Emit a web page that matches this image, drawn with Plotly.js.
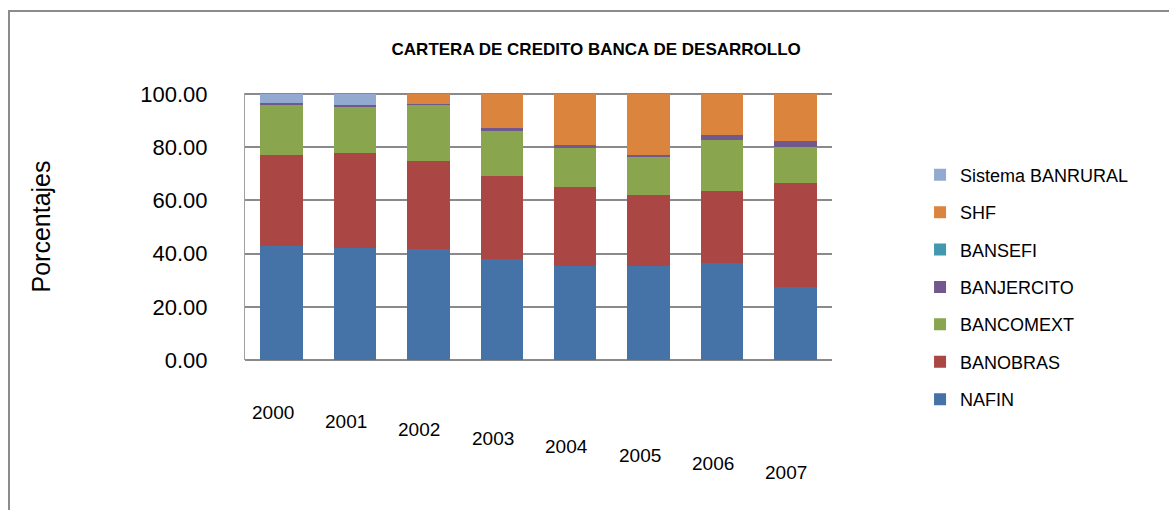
<!DOCTYPE html>
<html><head><meta charset="utf-8">
<script src="https://cdn.plot.ly/plotly-3.0.1.min.js"></script>
<style>
html,body{margin:0;padding:0;background:#fff;}
#frame{position:absolute;left:8px;top:10px;width:1200px;height:520px;border-left:2px solid #8c8c8c;border-top:2px solid #8c8c8c;}
#chart{position:absolute;left:0;top:0;width:1169px;height:510px;}
</style></head>
<body>
<div id="frame"></div>
<div id="chart"></div>
<script>
const years = ['2000','2001','2002','2003','2004','2005','2006','2007'];
const NAFIN      = [43.0, 42.0, 41.7, 37.9, 35.5, 35.2, 36.6, 27.5];
const BANOBRAS   = [34.0, 36.0, 33.3, 31.3, 29.7, 26.7, 26.8, 39.0];
const BANCOMEXT  = [19.0, 17.5, 21.0, 17.1, 14.6, 14.4, 19.5, 13.7];
const BANJERCITO = [0.5, 0.5, 0.4, 1.0, 0.9, 0.8, 1.7, 2.2];
const BANSEFI    = [0, 0, 0, 0, 0, 0, 0, 0];
const SHF        = [0, 0, 3.6, 12.7, 19.3, 22.9, 15.4, 17.6];
const BANRURAL   = [3.5, 4.0, 0, 0, 0, 0, 0, 0];

const series = [
  ['NAFIN', NAFIN, '#4572A7'],
  ['BANOBRAS', BANOBRAS, '#AA4643'],
  ['BANCOMEXT', BANCOMEXT, '#89A54E'],
  ['BANJERCITO', BANJERCITO, '#71588F'],
  ['BANSEFI', BANSEFI, '#4198AF'],
  ['SHF', SHF, '#DB843D'],
  ['Sistema BANRURAL', BANRURAL, '#93A9CF']
];
const traces = series.map(([name, vals, color], i) => ({
  type: 'bar', name: name, x: years, y: vals, legendgroup: name,
  legendrank: 100 - i,
  marker: {color: color, line: {width: 0}}
}));

const labelFont = {size: 19, family: 'Liberation Sans, Arial', color: '#000'};
const yearLabels = years.map((yr, i) => ({
  x: i, xref: 'x', y: 0, yref: 'paper', yanchor: 'top', text: yr, showarrow: false,
  font: labelFont, xshift: -9, yshift: -40 - i * 8.5
}));

const layout = {
  width: 1169, height: 510,
  margin: {l: 245, r: 337, t: 93, b: 150},
  paper_bgcolor: 'rgba(0,0,0,0)', plot_bgcolor: 'rgba(0,0,0,0)',
  barmode: 'stack', bargap: 0.42,
  font: {family: 'Liberation Sans, Arial, sans-serif', color: '#000'},
  title: {text: '<b>CARTERA DE CREDITO BANCA DE DESARROLLO</b>', x: 0.51, xref: 'container', y: 0.915, yref: 'container',
          xanchor: 'center', font: {size: 17, family: 'Liberation Sans, Arial', color: '#000'}},
  xaxis: {type: 'category', range: [-0.5, 7.5], showgrid: false, zeroline: false, showline: false, ticks: '',
          showticklabels: false},
  yaxis: {range: [0, 100.4], dtick: 20, tickformat: '.2f', showgrid: true, gridcolor: '#8a8a8a', gridwidth: 1.5,
          zeroline: true, zerolinecolor: '#8a8a8a', zerolinewidth: 1.5, showline: true, linecolor: '#a0a0a0',
          tickfont: {size: 22, family: 'Liberation Sans, Arial'}, ticklabelstandoff: 32,
          title: {text: 'Porcentajes', font: {size: 25, family: 'Liberation Sans, Arial'}, standoff: 82}},
  legend: {x: 1.15, xanchor: 'left', y: 0.762, yanchor: 'top', traceorder: 'grouped',
           tracegroupgap: 11, maxheight: 1, font: {size: 18, family: 'Liberation Sans, Arial'}, bgcolor: 'rgba(0,0,0,0)'},
  annotations: yearLabels,
  showlegend: true
};
Plotly.newPlot('chart', traces, layout, {displayModeBar: false});
</script>
</body></html>
